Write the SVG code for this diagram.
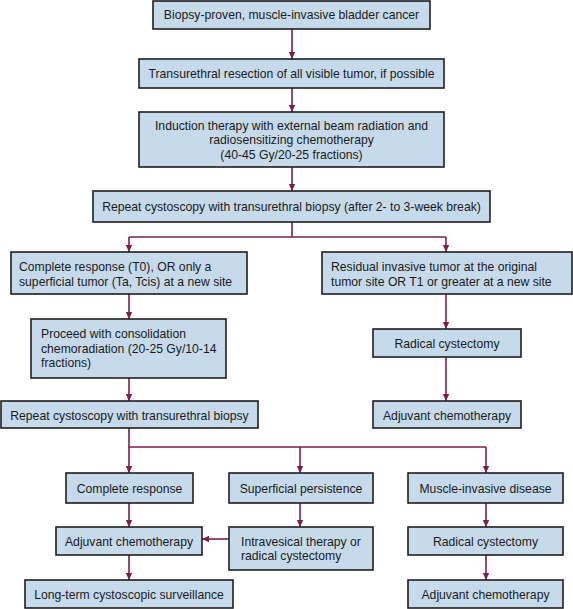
<svg xmlns="http://www.w3.org/2000/svg" width="573" height="609" viewBox="0 0 573 609">
<style>
.box{fill:#c7daec;stroke:#1e1e1e;stroke-width:1.6}
text{font-family:"Liberation Sans",Arial,sans-serif;font-size:12.2px;fill:#1a1a1a}
.c{text-anchor:middle}
.cn{fill:none;stroke:#7a1f4c;stroke-width:1.6}
</style>
<defs>
<marker id="ah" markerUnits="userSpaceOnUse" markerWidth="8" markerHeight="8" refX="7" refY="4" orient="auto">
<path d="M0,0.8 L7,4 L0,7.2 Z" fill="#7a1f4c"/>
</marker>
</defs>
<rect width="573" height="609" fill="#ffffff"/>
<g id="connectors">
<line class="cn" x1="292" y1="29" x2="292" y2="59" marker-end="url(#ah)"/>
<line class="cn" x1="292" y1="88" x2="292" y2="112" marker-end="url(#ah)"/>
<line class="cn" x1="292" y1="167" x2="292" y2="191" marker-end="url(#ah)"/>
<polyline class="cn" points="292,222 292,237"/>
<polyline class="cn" points="129,237 446,237"/>
<line class="cn" x1="129" y1="237" x2="129" y2="252" marker-end="url(#ah)"/>
<line class="cn" x1="446" y1="237" x2="446" y2="252" marker-end="url(#ah)"/>
<line class="cn" x1="129" y1="294" x2="129" y2="319" marker-end="url(#ah)"/>
<line class="cn" x1="129" y1="378" x2="129" y2="401" marker-end="url(#ah)"/>
<line class="cn" x1="446" y1="294" x2="446" y2="329" marker-end="url(#ah)"/>
<line class="cn" x1="446" y1="357" x2="446" y2="401" marker-end="url(#ah)"/>
<polyline class="cn" points="129,428 129,447 486,447"/>
<line class="cn" x1="129" y1="447" x2="129" y2="473" marker-end="url(#ah)"/>
<line class="cn" x1="300" y1="447" x2="300" y2="473" marker-end="url(#ah)"/>
<line class="cn" x1="486" y1="447" x2="486" y2="473" marker-end="url(#ah)"/>
<line class="cn" x1="129" y1="503" x2="129" y2="527" marker-end="url(#ah)"/>
<line class="cn" x1="300" y1="503" x2="300" y2="527" marker-end="url(#ah)"/>
<line class="cn" x1="486" y1="503" x2="486" y2="527" marker-end="url(#ah)"/>
<line class="cn" x1="229" y1="539" x2="202" y2="539" marker-end="url(#ah)"/>
<line class="cn" x1="129" y1="555" x2="129" y2="580" marker-end="url(#ah)"/>
<line class="cn" x1="486" y1="555" x2="486" y2="580" marker-end="url(#ah)"/>
</g>
<g id="n1"><rect class="box" x="153" y="1" width="277" height="28"/><text class="c" x="291.5" y="19.3">Biopsy-proven, muscle-invasive bladder cancer</text></g>
<g id="n2"><rect class="box" x="139" y="59" width="305" height="29"/><text class="c" x="291.5" y="77.5">Transurethral resection of all visible tumor, if possible</text></g>
<g id="n3"><rect class="box" x="139" y="112" width="305" height="55"/><text class="c" x="291.5" y="129.5">Induction therapy with external beam radiation and</text><text class="c" x="291.5" y="143.5">radiosensitizing chemotherapy</text><text class="c" x="291.5" y="158.5">(40-45 Gy/20-25 fractions)</text></g>
<g id="n4"><rect class="box" x="93" y="191" width="397" height="31"/><text class="c" x="291.5" y="211">Repeat cystoscopy with transurethral biopsy (after 2- to 3-week break)</text></g>
<g id="n5"><rect class="box" x="11" y="252" width="236" height="42"/><text x="19" y="271.3">Complete response (T0), OR only a</text><text x="19" y="285.5">superficial tumor (Ta, Tcis) at a new site</text></g>
<g id="n6"><rect class="box" x="322" y="252" width="250" height="42"/><text x="331" y="271.3">Residual invasive tumor at the original</text><text x="331" y="285.5">tumor site OR T1 or greater at a new site</text></g>
<g id="n7"><rect class="box" x="31" y="319" width="195" height="59"/><text x="41" y="338.3">Proceed with consolidation</text><text x="41" y="353.3">chemoradiation (20-25 Gy/10-14</text><text x="41" y="367.3">fractions)</text></g>
<g id="n8"><rect class="box" x="1" y="401" width="257" height="27"/><text class="c" x="129.5" y="420">Repeat cystoscopy with transurethral biopsy</text></g>
<g id="n9"><rect class="box" x="373" y="329" width="148" height="28"/><text class="c" x="447" y="348">Radical cystectomy</text></g>
<g id="n10"><rect class="box" x="373" y="401" width="148" height="27"/><text class="c" x="447" y="420">Adjuvant chemotherapy</text></g>
<g id="n11"><rect class="box" x="66" y="473" width="127" height="30"/><text class="c" x="129.5" y="492.5">Complete response</text></g>
<g id="n12"><rect class="box" x="229" y="473" width="144" height="30"/><text class="c" x="301" y="492.5">Superficial persistence</text></g>
<g id="n13"><rect class="box" x="408" y="473" width="155" height="30"/><text class="c" x="485.5" y="492.5">Muscle-invasive disease</text></g>
<g id="n14"><rect class="box" x="56" y="527" width="146" height="28"/><text class="c" x="129" y="545.5">Adjuvant chemotherapy</text></g>
<g id="n15"><rect class="box" x="229" y="527" width="144" height="43"/><text x="241" y="545.5">Intravesical therapy or</text><text x="241" y="560">radical cystectomy</text></g>
<g id="n16"><rect class="box" x="408" y="527" width="155" height="28"/><text class="c" x="485.5" y="545.5">Radical cystectomy</text></g>
<g id="n17"><rect class="box" x="25" y="580" width="208" height="28"/><text class="c" x="129" y="598.5">Long-term cystoscopic surveillance</text></g>
<g id="n18"><rect class="box" x="408" y="580" width="155" height="28"/><text class="c" x="485.5" y="598.5">Adjuvant chemotherapy</text></g>
</svg>
